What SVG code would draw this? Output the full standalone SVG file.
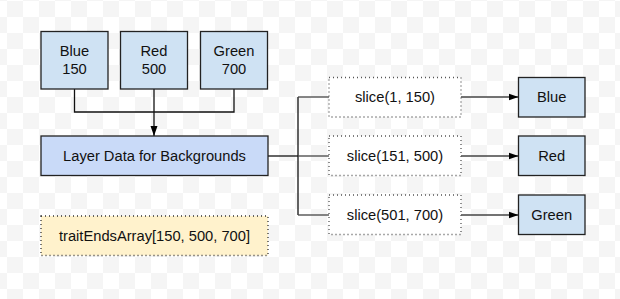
<svg xmlns="http://www.w3.org/2000/svg" width="620" height="299" viewBox="0 0 620 299">
<defs>
<pattern id="chk" x="7" y="1" width="32" height="32" patternUnits="userSpaceOnUse">
<rect width="32" height="32" fill="#ffffff"/>
<rect width="16" height="16" fill="#f5f5f5"/>
<rect x="16" y="16" width="16" height="16" fill="#f5f5f5"/>
</pattern>
<marker id="arr" viewBox="0 0 10 10" refX="10" refY="5" markerWidth="10" markerHeight="10" markerUnits="userSpaceOnUse" orient="auto">
<path d="M0,1.5 L10,5 L0,8.5 Z" fill="#000"/>
</marker>
<style>
.t{font-family:"Liberation Sans",Arial,sans-serif;font-size:14.7px;fill:#111;text-anchor:middle}
.nb{fill:#cfe2f3;stroke:#222;stroke-width:1.3}
.lb{fill:#c9daf8;stroke:#222;stroke-width:1.3}
.tb{fill:#fff2cc;stroke:#333;stroke-width:1.3;stroke-dasharray:1 3}
.sb{fill:#ffffff;stroke:#555;stroke-width:1.3;stroke-dasharray:1 3}
.c{fill:none;stroke:#111;stroke-width:1.3}
.g{fill:none;stroke:#444;stroke-width:1.3}
</style>
</defs>
<rect width="620" height="299" fill="url(#chk)"/>
<g id="connectors">
<path class="c" d="M74.5,89 V112 H154"/>
<path class="c" d="M234,89 V112 H154"/>
<path class="c" d="M154,89 V136" marker-end="url(#arr)"/>
<path class="c" d="M268,156 H298" stroke-width="2"/>
<path class="c" d="M298,97 V215"/>
<path class="g" d="M298,97 H329"/>
<path class="g" d="M298,156 H329"/>
<path class="g" d="M298,215 H329"/>
<path class="g" d="M461,97 H518.5" marker-end="url(#arr)"/>
<path class="g" d="M461,156 H518.5" marker-end="url(#arr)"/>
<path class="g" d="M461,215 H518.5" marker-end="url(#arr)"/>
</g>
<g id="blue150"><rect class="nb" x="41" y="31.5" width="67" height="57.5"/><text class="t" x="74.5" y="56">Blue</text><text class="t" x="74.5" y="73.5">150</text></g>
<g id="red500"><rect class="nb" x="120.5" y="31.5" width="67" height="57.5"/><text class="t" x="154" y="56">Red</text><text class="t" x="154" y="73.5">500</text></g>
<g id="green700"><rect class="nb" x="200.5" y="31.5" width="67" height="57.5"/><text class="t" x="234" y="56">Green</text><text class="t" x="234" y="73.5">700</text></g>
<g id="layer"><rect class="lb" x="41" y="136" width="227" height="39.5"/><text class="t" x="154.5" y="161">Layer Data for Backgrounds</text></g>
<g id="trait"><rect class="tb" x="41" y="216" width="227" height="39.5"/><text class="t" x="154.5" y="241">traitEndsArray[150, 500, 700]</text></g>
<g id="slice1"><rect class="sb" x="329" y="77.5" width="132" height="39.5"/><text class="t" x="395" y="102">slice(1, 150)</text></g>
<g id="slice2"><rect class="sb" x="329" y="136" width="132" height="39.5"/><text class="t" x="395" y="161">slice(151, 500)</text></g>
<g id="slice3"><rect class="sb" x="329" y="195" width="132" height="39.5"/><text class="t" x="395" y="220">slice(501, 700)</text></g>
<g id="outBlue"><rect class="nb" x="518.5" y="77.5" width="66.5" height="39.5"/><text class="t" x="551.7" y="102">Blue</text></g>
<g id="outRed"><rect class="nb" x="518.5" y="136" width="66.5" height="39.5"/><text class="t" x="551.7" y="161">Red</text></g>
<g id="outGreen"><rect class="nb" x="518.5" y="195" width="66.5" height="39.5"/><text class="t" x="551.7" y="220">Green</text></g>
</svg>
